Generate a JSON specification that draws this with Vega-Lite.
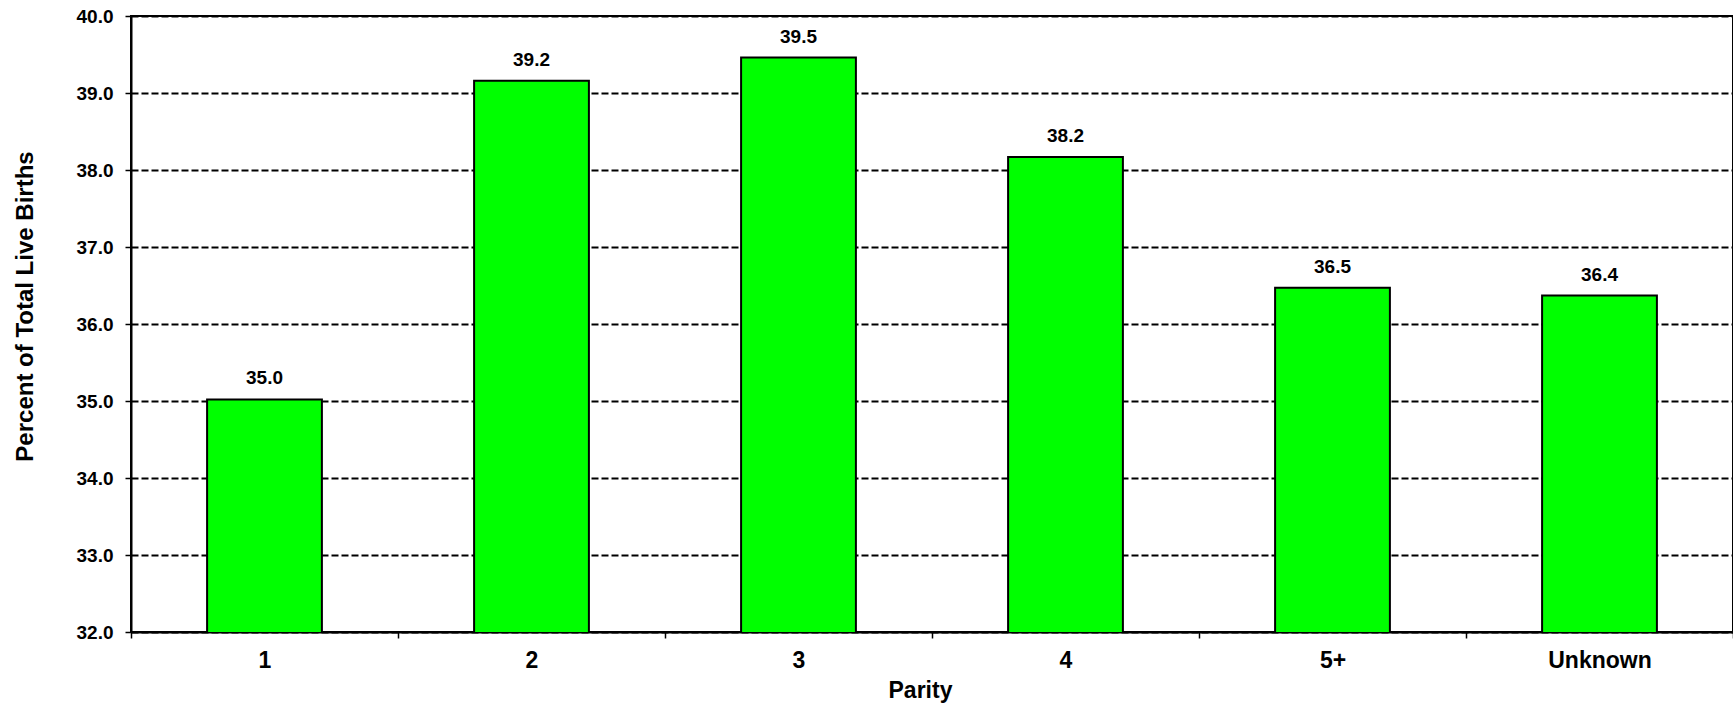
{
  "$schema": "https://vega.github.io/schema/vega-lite/v6.json",
  "width": 1602,
  "height": 616,
  "autosize": "none",
  "padding": {"left": 131, "top": 16, "right": 0, "bottom": 76},
  "background": "white",
  "config": {
    "font": "Liberation Sans",
    "view": {"stroke": "black", "strokeWidth": 2}
  },
  "data": {
    "values": [
      {"parity": "1", "pct": 35.02},
      {"parity": "2", "pct": 39.16},
      {"parity": "3", "pct": 39.46},
      {"parity": "4", "pct": 38.17},
      {"parity": "5+", "pct": 36.47},
      {"parity": "Unknown", "pct": 36.37}
    ]
  },
  "encoding": {
    "x": {
      "field": "parity",
      "type": "nominal",
      "sort": null,
      "scale": {"paddingInner": 0, "paddingOuter": 0},
      "axis": {
        "title": "Parity",
        "titleFont": "Liberation Sans",
        "titleFontSize": 23,
        "titleFontWeight": "bold",
        "titleColor": "black",
        "titleX": 789,
        "titlePadding": 7,
        "labelFont": "Liberation Sans",
        "labelFontSize": 23,
        "labelFontWeight": "bold",
        "labelColor": "black",
        "labelAngle": 0,
        "labelPadding": 11,
        "tickBand": "extent",
        "tickSize": 6,
        "tickColor": "black",
        "tickWidth": 1.5,
        "domainColor": "black",
        "domainWidth": 2,
        "grid": false
      }
    },
    "y": {
      "field": "pct",
      "type": "quantitative",
      "scale": {"domain": [32, 40], "nice": false, "zero": false},
      "axis": {
        "title": "Percent of Total Live Births",
        "titleFont": "Liberation Sans",
        "titleFontSize": 24,
        "titleFontWeight": "bold",
        "titleColor": "black",
        "titleX": -99,
        "titleY": 290,
        "titleBaseline": "alphabetic",
        "titleAngle": 270,
        "titleAlign": "center",
        "values": [32, 33, 34, 35, 36, 37, 38, 39, 40],
        "format": ".1f",
        "labelFont": "Liberation Sans",
        "labelFontSize": 19,
        "labelFontWeight": "bold",
        "labelColor": "black",
        "labelPadding": 12,
        "tickSize": 6,
        "tickColor": "black",
        "tickWidth": 1.5,
        "domainColor": "black",
        "domainWidth": 2,
        "grid": true,
        "gridColor": "black",
        "gridWidth": 2,
        "gridDash": [7, 3],
        "gridOpacity": 1
      }
    }
  },
  "layer": [
    {
      "mark": {
        "type": "bar",
        "width": {"band": 0.43},
        "fill": "#00ff00",
        "stroke": "black",
        "strokeWidth": 2,
        "clip": true
      }
    },
    {
      "mark": {
        "type": "text",
        "baseline": "alphabetic",
        "dy": -15,
        "font": "Liberation Sans",
        "fontSize": 19,
        "fontWeight": "bold",
        "color": "black"
      },
      "encoding": {
        "text": {"field": "pct", "type": "quantitative", "format": ".1f"}
      }
    }
  ]
}
